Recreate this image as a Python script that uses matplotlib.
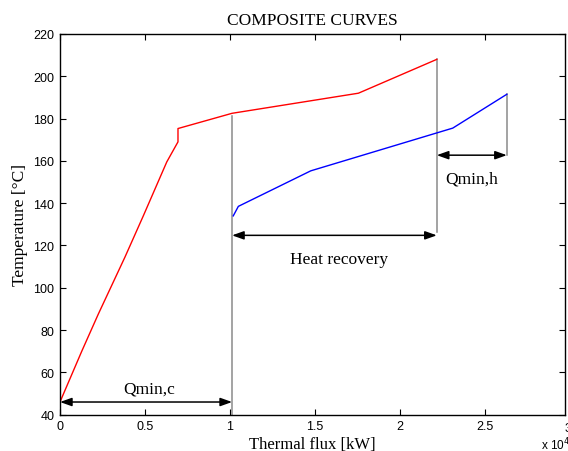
import matplotlib
matplotlib.use("Agg")
import matplotlib.pyplot as plt
from matplotlib.ticker import FuncFormatter

# hot composite curve (red)
hot_q = [0, 1280, 2250, 3820, 4900, 6280, 6940, 6940, 10120, 17550, 22160]
hot_t = [46, 70, 87.5, 114.5, 134, 159.5, 169, 175.3, 182.5, 192, 208]

# cold composite curve (blue)
cold_q = [10190, 10490, 14750, 23100, 26280]
cold_t = [134, 138.5, 155.3, 175.5, 191.5]

# vertical guide lines: q, t_low, t_high
guides_q = [10120, 22160, 26280]
guides_lo = [40, 126.5, 162.7]
guides_hi = [181, 208, 191.5]

# double arrows: q_start, q_end, t, label, label_q, label_t
arrow_q0 = [0, 10120, 22160]
arrow_q1 = [10120, 22160, 26280]
arrow_t = [46, 124.8, 162.7]
arrow_labels = ["Qmin,c", "Heat recovery", "Qmin,h"]
label_q = [5240, 16430, 24220]
label_t = [52.5, 113.5, 151.5]

fig = plt.figure(figsize=(5.68, 4.52), dpi=100)
ax = fig.add_axes([0.1056, 0.0803, 0.8891, 0.8423])

for q, lo, hi in zip(guides_q, guides_lo, guides_hi):
    ax.plot([q, q], [lo, hi], color="#8a8a8a", linewidth=1.1)

ax.plot(hot_q, hot_t, color="red", linewidth=1)
ax.plot(cold_q, cold_t, color="blue", linewidth=1)

for i in range(len(arrow_labels)):
    ax.annotate("", xy=(arrow_q1[i], arrow_t[i]), xytext=(arrow_q0[i], arrow_t[i]),
                arrowprops=dict(arrowstyle="<|-|>,head_length=0.7,head_width=0.25",
                                color="black", linewidth=1.1, shrinkA=0, shrinkB=0))
    ax.text(label_q[i], label_t[i], arrow_labels[i], ha="center", va="center",
            family="Liberation Serif", fontsize=12.5)

ax.set_xlim(0, 29700)
ax.set_ylim(40, 220)
ax.set_xticks([0, 5000, 10000, 15000, 20000, 25000])
ax.set_yticks(range(40, 221, 20))
fmt = lambda v, p: "%g" % (v / 1e4)
ax.xaxis.set_major_formatter(FuncFormatter(fmt))
ax.tick_params(direction="in", top=True, right=True, length=4, width=0.8,
               labelsize=9, pad=4)
for lab in ax.get_xticklabels() + ax.get_yticklabels():
    lab.set_family("Liberation Sans")
for s in ax.spines.values():
    s.set_linewidth(1)
# last tick label sits just past the right edge (cut off by the figure)
ax.text(29900, -0.02, fmt(30000, None), transform=ax.get_xaxis_transform(),
        ha="center", va="top", family="Liberation Sans", fontsize=9)

ax.set_title("COMPOSITE CURVES", family="Liberation Serif", fontsize=12.5, pad=7)
ax.set_xlabel("Thermal flux [kW]", family="Liberation Serif", fontsize=12, labelpad=3)
ax.set_ylabel("Temperature [°C]", family="Liberation Serif", fontsize=12.5, labelpad=4)
fig.text(0.952, 0.004, "x 10$^4$", family="Liberation Sans", fontsize=8.5)

fig.savefig("out.png", dpi=100)
